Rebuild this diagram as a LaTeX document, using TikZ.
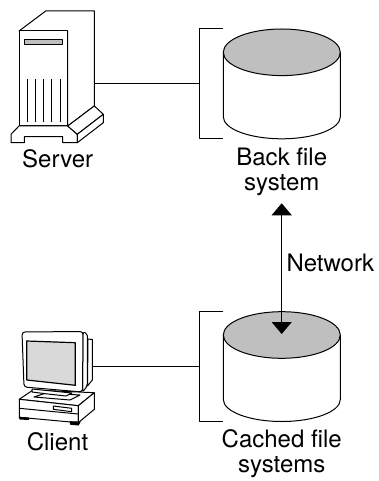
\documentclass[tikz,border=0pt]{standalone}
\usepackage{fontspec}
\setmainfont{TeX Gyre Heros}
\usetikzlibrary{arrows.meta}

\definecolor{topgray}{gray}{0.75}
\definecolor{screengray}{gray}{0.85}

\tikzset{
	disk/.pic={
		\draw[fill=white] (-58.5,0) -- (-58.5,64.5) arc[start angle=180, end angle=0, x radius=58.5, y radius=22] -- (58.5,0);
		\draw[fill=topgray] (0,0) ellipse[x radius=58.5, y radius=23.3];
		\draw (-58.5,-23.3) -- (-82.5,-23.3) -- (-82.5,86.2) -- (-58.5,86.2);
		\coordinate (-port) at (-82.5,31.5);
	},
	label/.style={inner sep=0pt, align=center, font=\fontsize{24}{25}\selectfont},
	netarrow/.style={{Triangle[width=20pt,length=12pt]}-{Triangle[width=20pt,length=12pt]}}
}

\begin{document}
\begin{tikzpicture}[x=1pt,y=-1pt,line width=1pt,line join=round]
	\useasboundingbox (0,0) rectangle (378,481);

	\pic (back) at (281.8,52.3) {disk};
	\pic (cached) at (281.8,335) {disk};

	% server
	\draw[fill=white] (19,31) -- (45.7,11) -- (94.3,11) -- (94.3,106) -- (67.7,126) -- (67.7,31) -- cycle;
	\draw[fill=white] (19,31) rectangle (67.7,126);
	\draw[fill=white] (19,126) -- (11,134.3) -- (11,142.7) -- (24.3,142.7) -- (24.3,136.7) -- (62.7,136.7) -- (62.7,142.7) -- (77.3,142.7) -- (77.3,134.3) -- (67.7,126) -- cycle;
	\draw[fill=white] (67.7,126) -- (94.3,106) -- (103.3,114.3) -- (77.3,134.3) -- cycle;
	\draw[fill=white] (77.3,134.3) -- (103.3,114.3) -- (103.3,122.7) -- (77.3,142.7) -- cycle;
	\draw[fill=topgray] (24.3,39.3) rectangle (62.7,44.7);
	\foreach \x in {27.3,35.7,43.7,51.7,60}
		\draw[line width=.8pt] (\x,79) -- (\x,122.3);
	\coordinate (serverport) at (94.3,83.8);

	% client
	\draw[fill=white] (88,339) -- (92.3,339.5) -- (92.3,380) -- (87.5,386) -- cycle;
	\draw[fill=white, rounded corners=2pt] (83,332) -- (87.3,333.5) -- (87.3,386) -- (82.5,392) -- cycle;
	\draw[fill=white, rounded corners=3pt] (22,332) -- (83,331.5) -- (82.5,392) -- (24,387) -- cycle;
	\draw[fill=screengray, line width=1.2pt] (26.7,341) -- (75.3,342.7) -- (75.3,385.3) -- (26.7,380) -- cycle;
	\draw[fill=white] (33,390) -- (94.3,392.7) -- (78.3,405.7) -- (19.3,399.3) -- cycle;
	\draw[fill=white] (19.3,399.3) -- (78.3,405.7) -- (78.3,422.7) -- (19.3,417.3) -- cycle;
	\draw[fill=white] (78.3,405.7) -- (94.3,392.7) -- (94.3,409.3) -- (78.3,422.7) -- cycle;
	\draw (19.3,408.3) -- (78.3,414);
	\draw (53.3,406) -- (71.7,408.3) -- (71.7,411.7) -- (53.3,409.3) -- cycle;
	\draw (34,397) -- (46,393) -- (80,395) -- (70,400) -- cycle;
	\draw[fill=white] (32,389) -- (32,392) -- (48,394) -- (66,396) -- (72,393) -- cycle;
	\draw[fill=black] (19.3,417.3) -- (20,419) -- (28.5,419.5) -- (28.5,418) -- cycle;
	\draw[fill=black] (70,421.7) -- (70.7,424.3) -- (78.3,425) -- (80,422) -- cycle;
	\coordinate (clientport) at (92.3,366.5);

	\coordinate (netup) at (281.7,203.3);
	\coordinate (netdown) at (281.7,334);

	\draw (serverport) -- (back-port);
	\draw (clientport) -- (cached-port);
	\draw[netarrow] (netup) -- (netdown);

	\node[label] (server) at (57.7,159) {Server};
	\node[label] (client) at (57.5,442) {Client};
	\node[label] (backfs) at (281.7,172) {Back file\\system};
	\node[label] (cachedfs) at (281.7,454) {Cached file\\systems};
	\node[label, anchor=west] (network) at (286,263) {Network};
\end{tikzpicture}
\end{document}
